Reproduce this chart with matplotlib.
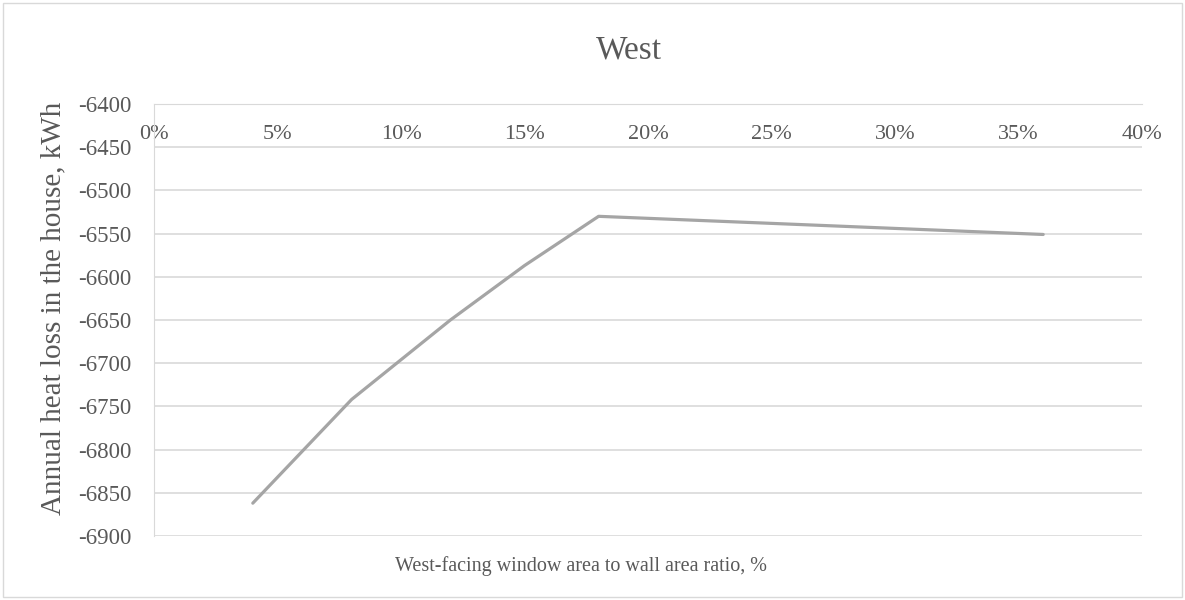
import numpy as np
import matplotlib.pyplot as plt
from matplotlib.patches import Rectangle
from matplotlib.ticker import FuncFormatter

# window-to-wall ratio (%) and annual heat loss (kWh)
ratio = [4, 8, 12, 15, 18, 36]
heat_loss = [-6862, -6742, -6650, -6587, -6530, -6551]

x_ticks = [0, 5, 10, 15, 20, 25, 30, 35, 40]
y_ticks = [-6900, -6850, -6800, -6750, -6700, -6650, -6600, -6550, -6500, -6450, -6400]

txt = '#595959'
grid = '#D9D9D9'

plt.rcParams['font.family'] = ['Liberation Serif', 'DejaVu Serif']
plt.rcParams['axes.unicode_minus'] = False

fig = plt.figure(figsize=(11.85, 6), dpi=100)
ax = fig.add_axes([154/1185, 1-536/600, (1142-154)/1185, (536-104)/600])

ax.plot(ratio, heat_loss, color='#A5A5A5', linewidth=2.3, solid_capstyle='round', zorder=3)

ax.set_xlim(0, 40)
ax.set_ylim(-6900, -6400)
ax.set_xticks(x_ticks)
ax.set_yticks(y_ticks)
ax.xaxis.set_major_formatter(FuncFormatter(lambda v, p: '%d%%' % v))
ax.grid(axis='y', color=grid, linewidth=1.2)
ax.set_axisbelow(True)

# Excel puts the category axis where y = -6400, i.e. the top edge
ax.spines['bottom'].set_position(('data', -6400))
ax.spines['bottom'].set_color(grid)
ax.spines['left'].set_color(grid)
ax.spines['top'].set_visible(False)
ax.spines['right'].set_visible(False)
ax.tick_params(axis='x', length=0, pad=15, labelsize=16, labelcolor=txt)
ax.tick_params(axis='y', length=0, pad=16, labelsize=16.5, labelcolor=txt)

fig.text(629/1185, 1-50/600, 'West', ha='center', va='center', fontsize=24, color=txt)
fig.text(581/1185, 1-566/600, 'West-facing window area to wall area ratio, %',
         ha='center', va='center', fontsize=14.5, color=txt)
fig.text(53/1185, 1-308/600, 'Annual heat loss in the house, kWh', rotation=90,
         ha='center', va='center', fontsize=21, color=txt)

fig.patches.append(Rectangle((3/1185, 3/600), 1179/1185, 594/600, transform=fig.transFigure,
                             fill=False, edgecolor=grid, linewidth=1))

fig.savefig('out.png', dpi=100)
